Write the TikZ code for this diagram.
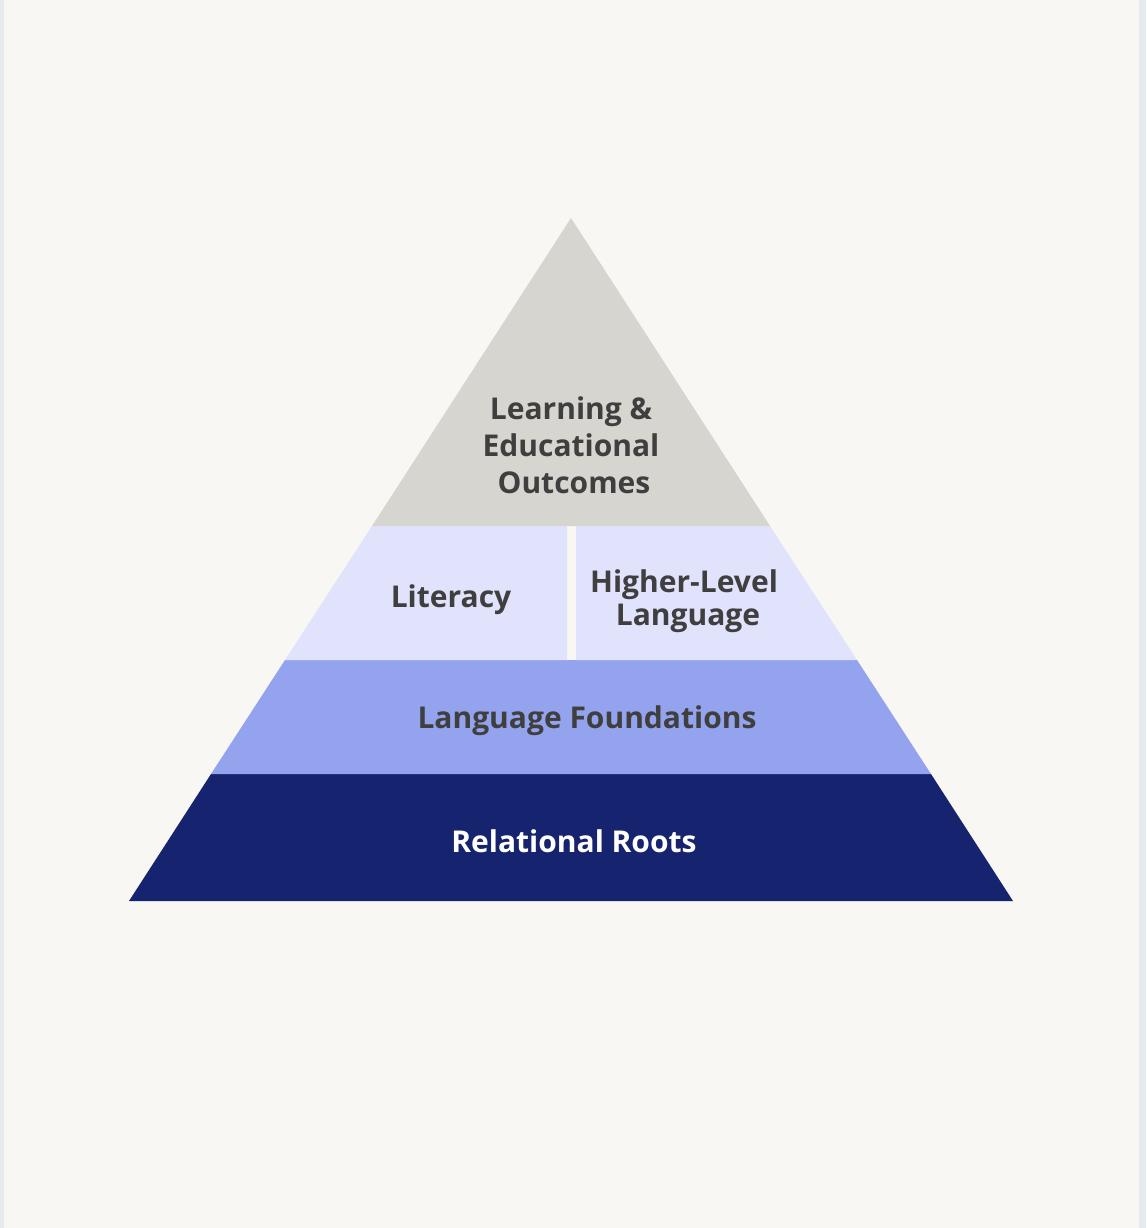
\documentclass[tikz,border=0pt]{standalone}
\usepackage{fontspec}
\setmainfont{Open Sans}
\definecolor{bgc}{HTML}{F8F7F3}
\definecolor{edgec}{HTML}{E6EAEE}
\definecolor{topc}{HTML}{D7D5D0}
\definecolor{midc}{HTML}{E1E3FD}
\definecolor{foundc}{HTML}{94A3EE}
\definecolor{rootc}{HTML}{162470}
\definecolor{txtc}{HTML}{3F3F3F}
\tikzset{
  lbl/.style={font=\bfseries\fontsize{30}{37}\selectfont, text=txtc, align=center, inner sep=0pt},
}
\begin{document}
\begin{tikzpicture}[x=1pt,y=-1pt]
\useasboundingbox (0,0) rectangle (1146,1228);
\fill[edgec] (0,0) rectangle (1146,1228);
\fill[bgc] (4,0) rectangle (1139,1228);
% layers
\fill[rootc] (211,774) -- (931,774) -- (1013,901) -- (129,901) -- cycle;
\fill[foundc] (285,660) -- (857,660) -- (931,774) -- (211,774) -- cycle;
\fill[midc] (372,526) -- (567,526) -- (567,660) -- (285,660) -- cycle;
\fill[midc] (576,526) -- (770,526) -- (857,660) -- (576,660) -- cycle;
\fill[topc] (571,218) -- (770,526) -- (372,526) -- cycle;
% labels
\node[lbl] (top) at (571,445) {Learning \&\\Educational\\\hspace*{6pt}Outcomes};
\node[lbl] (lit) at (451,600) {Literacy};
\node[lbl, font=\bfseries\fontsize{30}{33}\selectfont] (hll) at (684,601) {Higher-Level\\\hspace*{8pt}Language};
\node[lbl] (lf) at (587,721) {Language Foundations};
\node[lbl, text=white] (rr) at (574,841) {Relational Roots};
\end{tikzpicture}
\end{document}
